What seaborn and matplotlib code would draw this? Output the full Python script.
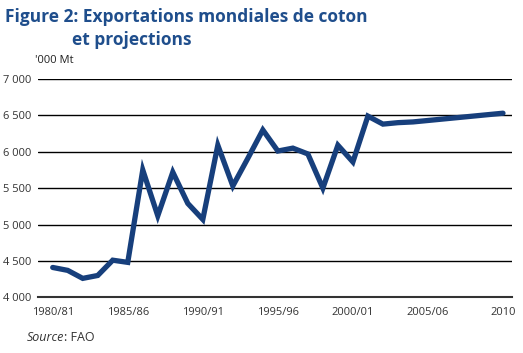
import numpy as np
import pandas as pd
import matplotlib
matplotlib.use("Agg")
import matplotlib.pyplot as plt
import seaborn as sns

# Données (milliers de tonnes)
saisons = ["1980/81", "1981/82", "1982/83", "1983/84", "1984/85", "1985/86",
           "1986/87", "1987/88", "1988/89", "1989/90", "1990/91", "1991/92",
           "1992/93", "1993/94", "1994/95", "1995/96", "1996/97", "1997/98",
           "1998/99", "1999/00", "2000/01", "2001/02", "2002/03", "2003/04",
           "2004/05", "2005/06", "2006/07", "2007/08", "2008/09", "2009/10", "2010"]
exportations = [4410, 4370, 4260, 4300, 4510, 4480, 5750, 5120, 5720, 5290,
                5070, 6090, 5530, 5910, 6300, 6010, 6050, 5970, 5500, 6090,
                5860, 6490, 6380, 6400, 6410, 6430, 6450, 6470, 6490, 6510, 6530]
yticks = [4000, 4500, 5000, 5500, 6000, 6500, 7000]

bleu = "#173f7c"
df = pd.DataFrame({"idx": np.arange(len(saisons)), "val": exportations})

sns.set_style("white")
plt.rcParams["font.family"] = ["Open Sans", "DejaVu Sans"]

fig = plt.figure(figsize=(5.23, 3.53), dpi=100)
ax = fig.add_axes([38 / 523, 1 - 297.3 / 353, 474 / 523, 218.3 / 353])

sns.lineplot(data=df, x="idx", y="val", ax=ax, color=bleu, linewidth=3.8,
             solid_joinstyle="miter")

ax.set_ylim(4000, 7000)
ax.set_xlim(-0.98, 30.6)
ax.set_yticks(yticks)
ax.set_yticklabels([f"{v:,}".replace(",", " ") for v in yticks])
for v in yticks[1:]:
    ax.axhline(v, color="black", linewidth=1.0, zorder=0)

ax.set_xticks(df["idx"])
ax.set_xticklabels([s if i % 5 == 0 else "" for i, s in enumerate(saisons)])
ax.tick_params(axis="x", direction="out", length=4, width=1.5, color="#222222",
               labelsize=8, labelcolor="#333333", pad=3)
ax.tick_params(axis="y", length=0, labelsize=8, labelcolor="#333333", pad=5)

for s in ["left", "right", "top"]:
    ax.spines[s].set_visible(False)
ax.spines["bottom"].set_color("#333333")
ax.spines["bottom"].set_linewidth(1.5)
ax.set_xlabel("")
ax.set_ylabel("")

fig.text(5 / 523, 1 - 22 / 353, "Figure 2: Exportations mondiales de coton",
         fontsize=12.5, fontweight="bold", color="#1f4e8c", ha="left", va="baseline")
fig.text(72 / 523, 1 - 45 / 353, "et projections",
         fontsize=12.5, fontweight="bold", color="#1f4e8c", ha="left", va="baseline")
fig.text(35 / 523, 1 - 63 / 353, "'000 Mt", fontsize=8, color="#222222",
         ha="left", va="baseline")
src = fig.text(27 / 523, 1 - 341 / 353, "Source", fontsize=9, style="italic",
               color="#333333", ha="left", va="baseline")
fig.canvas.draw()
bb = src.get_window_extent()
fig.text(bb.x1 / fig.bbox.width, 1 - 341 / 353, ": FAO", fontsize=9,
         color="#333333", ha="left", va="baseline")

fig.savefig("out.png", dpi=100)
